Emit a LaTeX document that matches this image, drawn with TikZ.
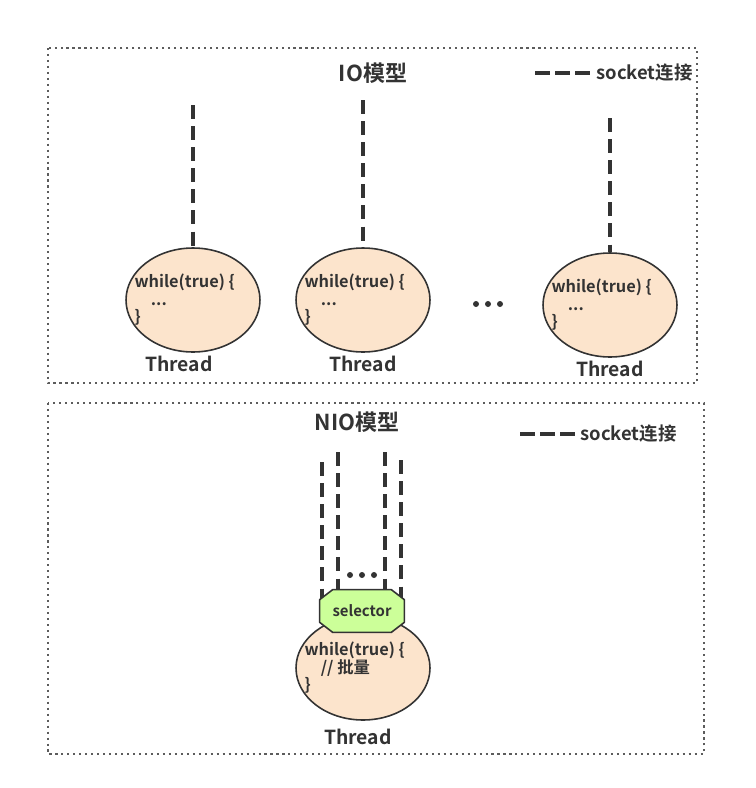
\documentclass[tikz,border=0pt]{standalone}
\usepackage{fontspec}
\setmainfont{Noto Sans CJK SC}[BoldFont={Noto Sans CJK SC Bold}]
\usepackage{tikz}
\usetikzlibrary{shapes.geometric,backgrounds}
\definecolor{peach}{HTML}{FCE4CC}
\definecolor{lime}{HTML}{CCFF99}
\definecolor{ink}{HTML}{333333}

\tikzset{
  frame/.style={draw=ink!80, line width=1pt, dash pattern=on 1.2pt off 2.2pt},
  thread/.style={ellipse, draw=ink, line width=0.9pt, fill=peach, minimum width=2.68cm, minimum height=2.08cm},
  code/.style={anchor=west, align=left, font=\bfseries\fontsize{9.3}{11}\selectfont, text=ink, inner sep=0pt},
  threadlabel/.style={font=\bfseries\fontsize{11}{13}\selectfont, text=ink},
  title/.style={font=\bfseries\fontsize{12.5}{14}\selectfont, text=ink},
  sock/.style={draw=ink, line width=2pt, dash pattern=on 8pt off 4pt},
  legend/.style={draw=ink, line width=2pt, dash pattern=on 8.5pt off 3pt},
  legtext/.style={anchor=west, inner sep=0pt, font=\bfseries\fontsize{10.5}{12}\selectfont, text=ink}
}

\begin{document}
\begin{tikzpicture}[x=0.02cm, y=-0.02cm]
\useasboundingbox (0,0) rectangle (755,788);

% IO model
\draw[frame] (48,48) rectangle (697,383);
\node[title] (iotitle) at (373,73) {IO模型};
\node[legtext] (leg1) at (596,73) {socket连接};
\coordinate (lg1) at (535,73);
\draw[legend] (lg1) -- ([shift={(-6,0)}]leg1.west);

\node[thread] (t1) at (193,300) {};
\node[thread] (t2) at (363,300) {};
\node[thread] (t3) at (610,305) {};
\foreach \i in {1,2,3} {
  \node[code] (code\i) at ([xshift=0.18cm]t\i.west) {while(true) \{\\[-1pt]\quad ...\\[-1pt]\}};
}
\node[threadlabel] (th1) at (179,364) {Thread};
\node[threadlabel] (th2) at (363,364) {Thread};
\node[threadlabel] (th3) at (610,369) {Thread};

\coordinate (s1) at (193,105);
\coordinate (s2) at (363,100);
\coordinate (s3) at (610,118);
\draw[sock] (s1) -- (t1.north);
\draw[sock] (s2) -- (t2.north);
\draw[sock] (s3) -- (t3.north);

\foreach \x in {476,488,500}
  \fill[ink] (\x,304) circle (3);

% NIO model
\draw[frame] (48,403) rectangle (704,754);
\node[title] (niotitle) at (357,422) {NIO模型};
\node[legtext] (leg2) at (580,434) {socket连接};
\coordinate (lg2) at (520,434);
\draw[legend] (lg2) -- ([shift={(-5,0)}]leg2.west);

\node[minimum width=1.68cm, minimum height=0.84cm,
  font=\bfseries\fontsize{8.5}{10}\selectfont, text=ink] (sel) at (362,611) {selector};

\coordinate (n1) at (322,462);
\coordinate (n2) at (338,452);
\coordinate (n3) at (385,452);
\coordinate (n4) at (401,460);
\begin{scope}[on background layer]
\node[thread] (t4) at (363,668) {};
\foreach \n in {n1,n2,n3,n4}
  \draw[sock] (\n) -- (\n |- sel.center);
% chamfered box of the selector
\draw[ink, line width=0.9pt, fill=lime, line join=round]
  ([shift={(13,0)}]sel.north west) -- ([shift={(-13,0)}]sel.north east)
  -- ([shift={(0,10)}]sel.north east) -- ([shift={(0,-10)}]sel.south east)
  -- ([shift={(-13,0)}]sel.south east) -- ([shift={(13,0)}]sel.south west)
  -- ([shift={(0,-10)}]sel.south west) -- ([shift={(0,10)}]sel.north west) -- cycle;
\end{scope}
\node[code] (code4) at ([xshift=0.18cm]t4.west) {while(true) \{\\[-1pt]\quad // 批量\\[-1pt]\}};
\node[threadlabel] (th4) at (358,737) {Thread};

\foreach \x in {350,362,374}
  \fill[ink] (\x,575) circle (3);
\end{tikzpicture}
\end{document}
